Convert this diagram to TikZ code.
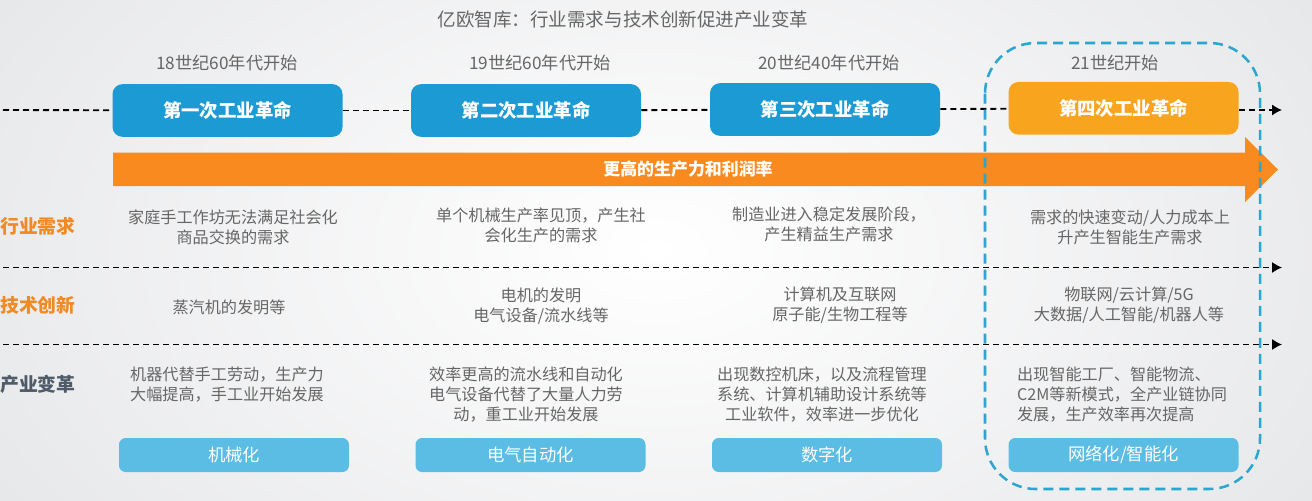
\documentclass[tikz,border=0pt]{standalone}
\usepackage{fontspec}
\setmainfont{Noto Sans CJK SC}
\usetikzlibrary{arrows.meta,shapes.arrows}
\definecolor{bluebox}{HTML}{1C9AD3}
\definecolor{orangebox}{HTML}{F9A41F}
\definecolor{arrowfill}{HTML}{F88A20}
\definecolor{lightbox}{HTML}{5BBDE4}
\definecolor{dashblue}{HTML}{2BA6CE}
\definecolor{bodygray}{HTML}{666666}
\definecolor{labelorange}{HTML}{F28A24}
\definecolor{labelslate}{HTML}{4F5B68}
\definecolor{bgedge}{HTML}{E6E7E9}
\tikzset{
  bodytext/.style={text=bodygray,font=\fontsize{12.1pt}{15pt}\selectfont,align=center,inner sep=0pt},
  datetext/.style={text=bodygray,font=\fontsize{12.9pt}{15pt}\selectfont,inner sep=0pt},
  sidelabel/.style={font=\fontsize{14.1pt}{16pt}\selectfont\bfseries,inner sep=0pt,anchor=west},
  revbox/.style={rounded corners=7.5pt,minimum width=172.5pt,minimum height=39.5pt,text=white,inner sep=0pt,font=\fontsize{13.8pt}{16pt}\selectfont\bfseries},
  lowbox/.style={fill=lightbox,rounded corners=5pt,minimum width=172.5pt,minimum height=25.5pt,text=white,inner sep=0pt,font=\fontsize{13pt}{16pt}\selectfont},
  timeline/.style={black,line width=1.4pt,dash pattern=on 4.5pt off 3pt},
  arrowed/.style={timeline,-{Latex[length=7.5pt,width=8.5pt]}},
}
\begin{document}
\begin{tikzpicture}[x=0.75pt,y=-0.75pt]
\useasboundingbox (0,0) rectangle (1312,500);
\shade[inner color=white,outer color=bgedge] (-140,-250) rectangle (1452,750);
\clip (0,0) rectangle (1312,500);
% free ends
\coordinate (tstart) at (3,110);
\coordinate (tend) at (1282,110);
\coordinate (r1a) at (3,267.5);
\coordinate (r1b) at (1282,267.5);
\coordinate (r2a) at (3,344.5);
\coordinate (r2b) at (1282,344.5);
% title and dates
\node[text=bodygray,font=\fontsize{13.9pt}{16pt}\selectfont,inner sep=0pt] (title) at (623,19) {亿欧智库：行业需求与技术创新促进产业变革};
\node[datetext] (d1) at (227,63) {18世纪60年代开始};
\node[datetext] (d2) at (540,63) {19世纪60年代开始};
\node[datetext] (d3) at (829,63) {20世纪40年代开始};
\node[datetext] (d4) at (1115,63) {21世纪开始};
% revolution boxes
\node[revbox,fill=bluebox] (b1) at (227.5,110.5) {第一次工业革命};
\node[revbox,fill=bluebox] (b2) at (526,110.5) {第二次工业革命};
\node[revbox,fill=bluebox] (b3) at (825,109.5) {第三次工业革命};
\node[revbox,fill=orangebox] (b4) at (1123.5,108.3) {第四次工业革命};
\draw[timeline] (tstart) -- (b1);
\draw[timeline] (b1) -- (b2);
\draw[timeline] (b2) -- (b3);
\draw[timeline] (b3) -- (b4);
\draw[arrowed] (b4.east |- tend) -- (tend);
% big arrow
\fill[arrowfill] (113,152.5) -- (1245,152.5) -- (1245,137) -- (1278,169.5) -- (1245,202) -- (1245,186) -- (113,186) -- cycle;
\node[text=white,font=\fontsize{12.7pt}{15pt}\selectfont\bfseries,inner sep=0pt] (gain) at (688,169) {更高的生产力和利润率};
% row lines
\draw[arrowed] (r1a) -- (r1b);
\draw[arrowed] (r2a) -- (r2b);
% side labels
\node[sidelabel,text=labelorange] (l1) at (0,226) {行业需求};
\node[sidelabel,text=labelorange] (l2) at (0,305.5) {技术创新};
\node[sidelabel,text=labelslate] (l3) at (0,384.5) {产业变革};
% demand row
\node[bodytext] (q1) at (233,227) {家庭手工作坊无法满足社会化\\商品交换的需求};
\node[bodytext] (q2) at (541,225.5) {单个机械生产率见顶，产生社\\会化生产的需求};
\node[bodytext] (q3) at (829,224.5) {制造业进入稳定发展阶段，\\产生精益生产需求};
\node[bodytext] (q4) at (1130,227) {需求的快速变动/人力成本上\\升产生智能生产需求};
% tech row
\node[bodytext] (t1) at (229,307) {蒸汽机的发明等};
\node[bodytext] (t2) at (541,306) {电机的发明\\电气设备/流水线等};
\node[bodytext] (t3) at (840,305.5) {计算机及互联网\\原子能/生物工程等};
\node[bodytext] (t4) at (1129,305.5) {物联网/云计算/5G\\大数据/人工智能/机器人等};
% change row
\node[bodytext] (c1) at (227,385) {机器代替手工劳动，生产力\\大幅提高，手工业开始发展};
\node[bodytext] (c2) at (526,395) {效率更高的流水线和自动化\\电气设备代替了大量人力劳\\动，重工业开始发展};
\node[bodytext] (c3) at (822,395) {出现数控机床，以及流程管理\\系统、计算机辅助设计系统等\\工业软件，效率进一步优化};
\node[bodytext,align=left] (c4) at (1122,395) {出现智能工厂、智能物流、\\C2M等新模式，全产业链协同\\发展，生产效率再次提高};
% lower boxes
\node[lowbox] (m1) at (234,455) {机械化};
\node[lowbox] (m2) at (530.5,455) {电气自动化};
\node[lowbox] (m3) at (827,455) {数字化};
\node[lowbox] (m4) at (1123.5,455) {网络化/智能化};
% highlight frame
\draw[dashblue,line width=1.9pt,dash pattern=on 7.5pt off 4.5pt,rounded corners=38pt] (985,43) rectangle (1260,489);
\end{tikzpicture}
\end{document}
